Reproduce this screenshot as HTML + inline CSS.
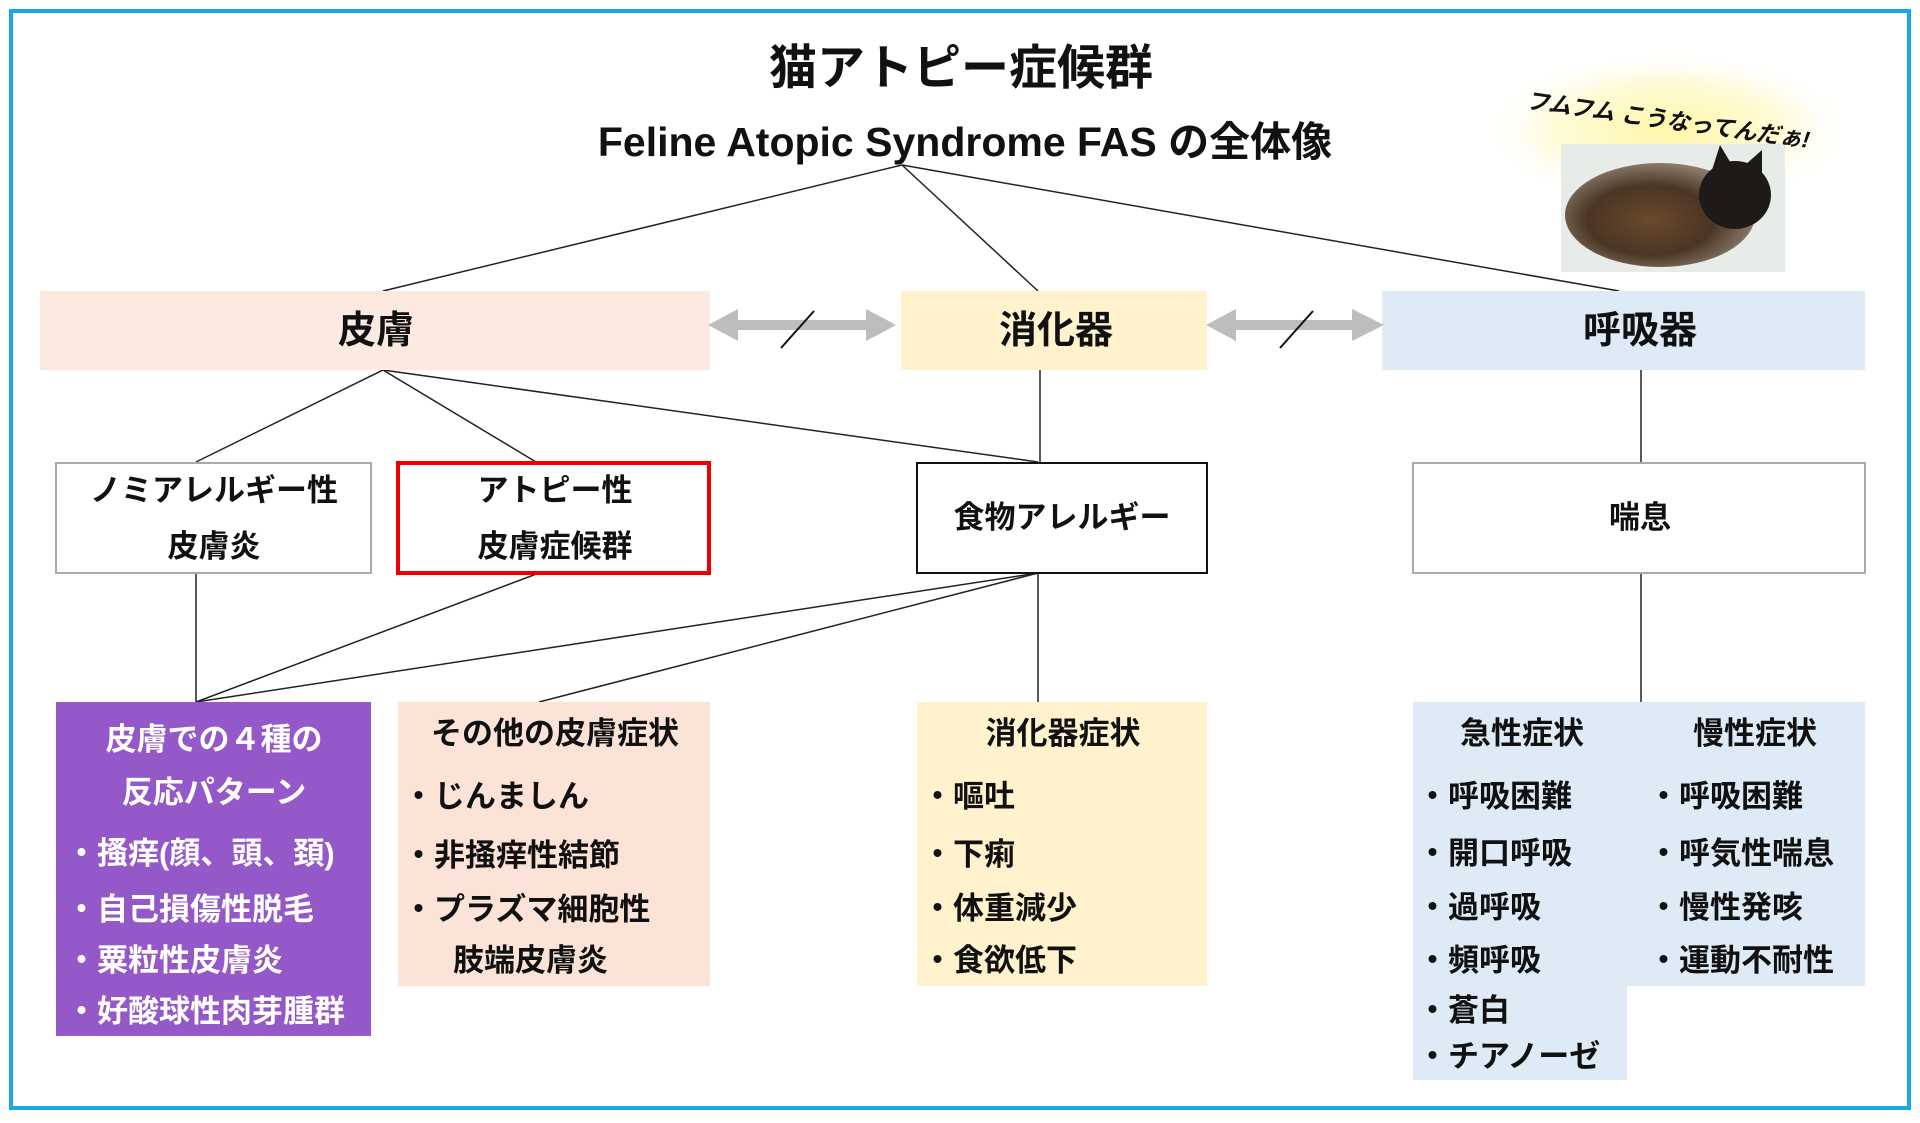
<!DOCTYPE html>
<html><head><meta charset="utf-8"><style>
html,body{margin:0;padding:0;background:#fff}
svg{display:block}
text{font-family:"Liberation Sans","Noto Sans CJK JP",sans-serif;font-weight:bold;fill:#111}
</style></head><body>
<svg width="1920" height="1123" viewBox="0 0 1920 1123" xmlns="http://www.w3.org/2000/svg">
<defs>
<radialGradient id="glow" cx="50%" cy="50%" r="50%">
<stop offset="0" stop-color="#fff7a8"/><stop offset="0.6" stop-color="#fffbd8"/><stop offset="1" stop-color="#ffffff" stop-opacity="0"/>
</radialGradient>
<radialGradient id="cat" cx="45%" cy="55%" r="55%">
<stop offset="0" stop-color="#6a4a2c"/><stop offset="0.6" stop-color="#4a3524"/><stop offset="1" stop-color="#8a7a6a"/>
</radialGradient>
</defs>
<rect x="11" y="11" width="1898" height="1097" fill="none" stroke="#1aa6e0" stroke-width="4"/>

<text x="961" y="84" font-size="48" text-anchor="middle">猫アトピー症候群</text>
<text x="965" y="156" font-size="41" text-anchor="middle">Feline Atopic Syndrome FAS の全体像</text>

<!-- cat -->
<ellipse cx="1668" cy="130" rx="190" ry="80" fill="url(#glow)"/>
<rect x="1561" y="144" width="224" height="128" fill="#e8ece9"/>
<ellipse cx="1660" cy="215" rx="95" ry="52" fill="url(#cat)"/>
<ellipse cx="1735" cy="195" rx="36" ry="34" fill="#1e1a18"/>
<polygon points="1712,170 1720,145 1732,165" fill="#1e1a18"/>
<polygon points="1745,165 1762,150 1762,178" fill="#1e1a18"/>
<text x="1668" y="128" font-size="23" text-anchor="middle" font-style="italic" transform="rotate(8 1668 120)">フムフム こうなってんだぁ!</text>

<!-- lines -->
<g stroke="#222" stroke-width="1.5" fill="none">
<line x1="902" y1="165" x2="383" y2="291"/>
<line x1="902" y1="165" x2="1038" y2="291"/>
<line x1="902" y1="165" x2="1619" y2="291"/>
<line x1="383" y1="370" x2="196" y2="462"/>
<line x1="383" y1="370" x2="536" y2="462"/>
<line x1="383" y1="370" x2="1038" y2="462"/>
<line x1="1040" y1="370" x2="1040" y2="462"/>
<line x1="1641" y1="370" x2="1641" y2="462"/>
<line x1="196" y1="573" x2="196" y2="702"/>
<line x1="539" y1="573" x2="196" y2="702"/>
<line x1="1038" y1="573" x2="196" y2="702"/>
<line x1="1038" y1="573" x2="539" y2="702"/>
<line x1="1038" y1="573" x2="1038" y2="702"/>
<line x1="1641" y1="573" x2="1641" y2="702"/>
</g>

<!-- top boxes -->
<rect x="40" y="291" width="670" height="79" fill="#fce9e0"/>
<text x="376" y="343" font-size="38" text-anchor="middle">皮膚</text>
<rect x="901" y="291" width="306" height="79" fill="#fff2cc"/>
<text x="1056" y="343" font-size="38" text-anchor="middle">消化器</text>
<rect x="1382" y="291" width="483" height="79" fill="#deebf7"/>
<text x="1640" y="343" font-size="38" text-anchor="middle">呼吸器</text>

<!-- arrows -->
<g fill="#bdbdbd">
<polygon points="708,325 738,309 738,320 866,320 866,309 896,325 866,341 866,330 738,330 738,341"/>
<polygon points="1206,325 1236,309 1236,320 1352,320 1352,309 1384,325 1352,341 1352,330 1236,330 1236,341"/>
</g>
<line x1="814" y1="311" x2="781" y2="348" stroke="#111" stroke-width="2"/>
<line x1="1313" y1="311" x2="1280" y2="348" stroke="#111" stroke-width="2"/>

<!-- row 2 -->
<rect x="56" y="463" width="315" height="110" fill="#fff" stroke="#aaa" stroke-width="2"/>
<text x="214" y="501" font-size="31" text-anchor="middle">ノミアレルギー性</text>
<text x="214" y="557" font-size="31" text-anchor="middle">皮膚炎</text>
<rect x="398" y="463" width="311" height="110" fill="#fff" stroke="#e00" stroke-width="4"/>
<text x="555" y="501" font-size="31" text-anchor="middle">アトピー性</text>
<text x="555" y="557" font-size="31" text-anchor="middle">皮膚症候群</text>
<rect x="917" y="463" width="290" height="110" fill="#fff" stroke="#111" stroke-width="2"/>
<text x="1062" y="528" font-size="31" text-anchor="middle">食物アレルギー</text>
<rect x="1413" y="463" width="452" height="110" fill="#fff" stroke="#aaa" stroke-width="2"/>
<text x="1640" y="528" font-size="31" text-anchor="middle">喘息</text>

<!-- row 3 -->
<rect x="56" y="702" width="315" height="334" fill="#9558c8"/>
<g font-size="31">
<text x="214" y="750" text-anchor="middle" style="fill:#fff">皮膚での４種の</text>
<text x="214" y="803" text-anchor="middle" style="fill:#fff">反応パターン</text>
<text x="66" y="864" style="fill:#fff">・搔痒(顔、頭、頚)</text>
<text x="66" y="920" style="fill:#fff">・自己損傷性脱毛</text>
<text x="66" y="971" style="fill:#fff">・粟粒性皮膚炎</text>
<text x="66" y="1022" style="fill:#fff">・好酸球性肉芽腫群</text>
</g>
<rect x="398" y="702" width="312" height="284" fill="#fce3d8"/>
<g font-size="31">
<text x="555" y="744" text-anchor="middle">その他の皮膚症状</text>
<text x="403" y="807">・じんましん</text>
<text x="403" y="866">・非掻痒性結節</text>
<text x="403" y="920">・プラズマ細胞性</text>
<text x="453" y="971">肢端皮膚炎</text>
</g>
<rect x="917" y="702" width="290" height="284" fill="#fff2cc"/>
<g font-size="31">
<text x="1063" y="744" text-anchor="middle">消化器症状</text>
<text x="922" y="807">・嘔吐</text>
<text x="922" y="865">・下痢</text>
<text x="922" y="919">・体重減少</text>
<text x="922" y="971">・食欲低下</text>
</g>
<rect x="1413" y="702" width="452" height="284" fill="#deebf7"/>
<rect x="1413" y="986" width="214" height="94" fill="#deebf7"/>
<g font-size="31">
<text x="1522" y="744" text-anchor="middle">急性症状</text>
<text x="1755" y="744" text-anchor="middle">慢性症状</text>
<text x="1417" y="807">・呼吸困難</text>
<text x="1417" y="864">・開口呼吸</text>
<text x="1417" y="918">・過呼吸</text>
<text x="1417" y="971">・頻呼吸</text>
<text x="1417" y="1021">・蒼白</text>
<text x="1417" y="1067">・チアノーゼ</text>
<text x="1648" y="807">・呼吸困難</text>
<text x="1648" y="864">・呼気性喘息</text>
<text x="1648" y="918">・慢性発咳</text>
<text x="1648" y="971">・運動不耐性</text>
</g>
</svg>
</body></html>
